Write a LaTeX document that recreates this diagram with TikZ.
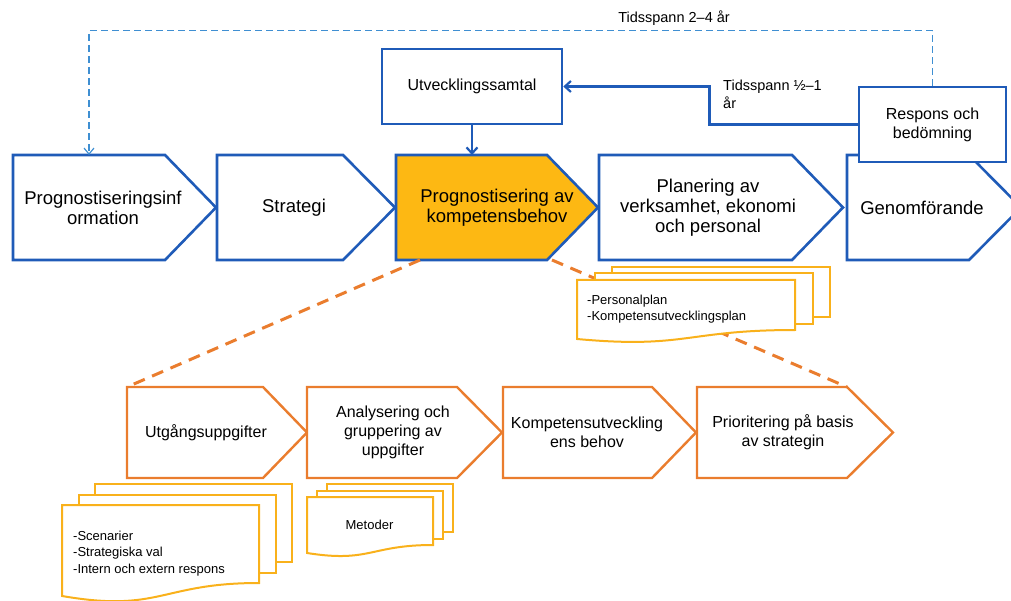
\documentclass[tikz,border=0pt]{standalone}
\usepackage{fontspec}
\setmainfont{Liberation Sans}
\usetikzlibrary{arrows.meta,calc}

\definecolor{flowblue}{HTML}{1F5BB8}
\definecolor{loopblue}{HTML}{3F8FD2}
\definecolor{gold}{HTML}{FDB813}
\definecolor{paperedge}{HTML}{F9B11B}
\definecolor{rust}{HTML}{EA7D2E}

% chevron step: name, style, left x, corner x, tip x, top y, bottom y, text x, text
\newcommand\chev[9]{%
  \draw[#2] (#3,#6) -- (#4,#6) -- (#5,{(#6+#7)/2}) -- (#4,#7) -- (#3,#7) -- cycle;
  \coordinate (#1-nw) at (#3,#6);
  \coordinate (#1-ne) at (#4,#6);
  \coordinate (#1-sw) at (#3,#7);
  \coordinate (#1-se) at (#4,#7);
  \node[#2 text] (#1) at (#8,{(#6+#7)/2}) {#9};
}

% stack of three pages: left x, right x, top y, bottom right y, bottom left y,
% wave control y, page offset right, page offset up, name
\newcommand\pages[9]{%
  \draw[paper] ({#1+2*#7},{#3-2*#8}) rectangle ({#2+2*#7},{#4-2*#8});
  \draw[paper] ({#1+#7},{#3-#8}) rectangle ({#2+#7},{#4-#8});
  \draw[paper] (#1,#3) -- (#2,#3) -- (#2,#4)
    .. controls ({(#1+#2)/2},#4) and ({(#1+#2)/2},#6) .. (#1,#5) -- cycle;
  \coordinate (#9) at (#1,#3);
}

\begin{document}
\begin{tikzpicture}[x=1pt,y=-1pt,
  topchev/.style={draw=flowblue,line width=2.6pt,fill=white,line join=miter},
  topchev text/.style={font=\fontsize{18.5}{20}\selectfont,align=center,inner sep=0pt},
  hotchev/.style={draw=flowblue,line width=2.6pt,fill=gold,line join=miter},
  hotchev text/.style={font=\fontsize{18.5}{20}\selectfont,align=center,inner sep=0pt},
  lowchev/.style={draw=rust,line width=2.4pt,fill=white,line join=miter},
  lowchev text/.style={font=\fontsize{16}{19}\selectfont,align=center,inner sep=0pt},
  bluebox/.style={draw=flowblue,line width=2.6pt,fill=white,inner sep=0pt,
    font=\fontsize{16}{19}\selectfont,align=center},
  paper/.style={draw=paperedge,line width=2pt,fill=white,line join=miter},
  papertext/.style={font=\fontsize{13}{16}\selectfont,align=left,inner sep=0pt,anchor=west},
  label/.style={font=\fontsize{14.5}{18}\selectfont,inner sep=0pt},
  flowarrow/.style={draw=flowblue,line width=2.6pt,-{Straight Barb[length=6pt,width=11pt,line width=2.2pt]}},
  looparrow/.style={draw=loopblue,line width=1.4pt,dash pattern=on 7pt off 4pt,
    -{Straight Barb[length=6pt,width=10pt,line width=1.2pt]}},
  zoomline/.style={draw=rust,line width=3pt,dash pattern=on 12pt off 8pt}
]
\useasboundingbox (0,0) rectangle (1011,601);
\clip (0,0) rectangle (1011,601);

% main process
\chev{pinfo}{topchev}{13}{165}{216}{155}{260}{103}{Prognostiseringsinf\\ormation}
\chev{strat}{topchev}{217}{343}{395}{155}{260}{294}{Strategi}
\chev{kb}{hotchev}{396}{547}{598}{155}{260}{497}{Prognostisering av\\kompetensbehov}
\chev{plan}{topchev}{599}{792}{843}{155}{260}{708}{Planering av\\verksamhet, ekonomi\\och personal}
\chev{gen}{topchev}{847}{969}{1021}{155}{260}{922}{Genomförande}

% feedback boxes
\node[bluebox,minimum width=180pt,minimum height=75pt] (utv) at (472,86.5) {Utvecklingssamtal};
\node[bluebox,minimum width=147pt,minimum height=75pt] (resp) at (932.5,124.5) {Respons och\\bedömning};

% feedback loops
\coordinate (loopend) at (89,155);
\draw[looparrow] (resp.north) -- ++(0,-55) -| (loopend);
\node[label] (longspan) at (674,18) {Tidsspann 2–4 år};
\draw[flowarrow] (resp.west) -- ++(-148,0) |- (utv.east);
\node[label,anchor=west,align=left] (shortspan) at (723,94) {Tidsspann ½–1\\år};
\draw[flowarrow] (utv.south) -- (utv.south |- kb-nw);

% detail of the competence step
\coordinate (zoomstart) at (420,260);
\chev{utg}{lowchev}{127}{263}{307}{387}{478}{206}{Utgångsuppgifter}
\chev{ana}{lowchev}{307}{457}{502}{387}{478}{393}{Analysering och\\gruppering av\\uppgifter}
\chev{kut}{lowchev}{503}{652}{696}{387}{478}{587}{Kompetensutveckling\\ens behov}
\chev{prio}{lowchev}{697}{847}{893}{387}{478}{783}{Prioritering på basis\\av strategin}
\draw[zoomline] (zoomstart) -- (utg-nw);
\draw[zoomline] ($(kb-se)+(5,0)$) -- (prio-ne);

% documents
\pages{577}{795}{280}{330}{339}{349}{17.5}{6.5}{docA}
\node[papertext] (docAtext) at (587,309.5) {-Personalplan\\-Kompetensutvecklingsplan};
\pages{62}{259}{505}{583}{596}{613}{16.5}{10.5}{docB}
\node[papertext,font=\fontsize{13}{16.5}\selectfont] (docBtext) at (73,553.5) {-Scenarier\\-Strategiska val\\-Intern och extern respons};
\pages{307}{433}{497}{545}{553}{563}{10}{6.5}{docC}
\node[papertext,anchor=center] (docCtext) at (369.5,525) {Metoder};
\end{tikzpicture}
\end{document}
